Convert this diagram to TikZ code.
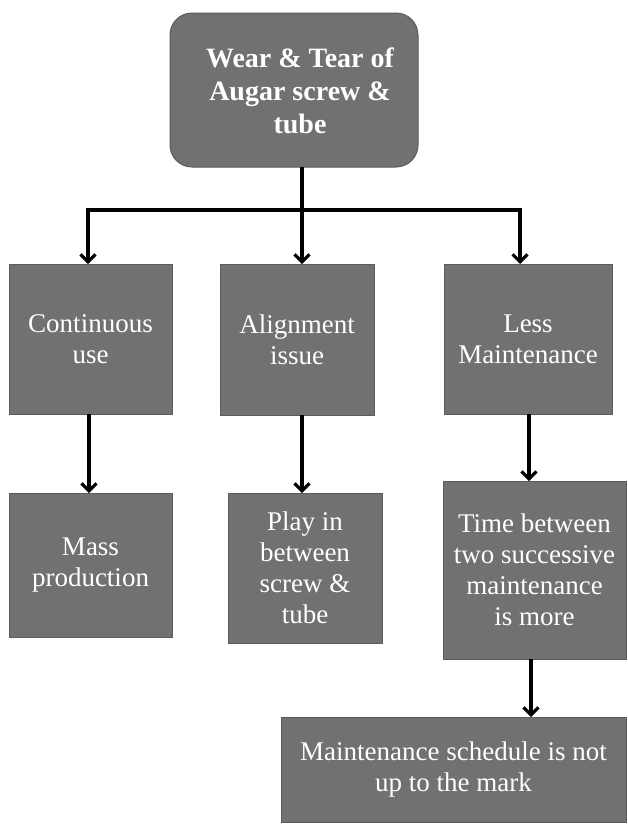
\documentclass[tikz,border=0pt]{standalone}
\usepackage{fontspec}
\setmainfont{Liberation Serif}
\usetikzlibrary{arrows.meta}
\definecolor{boxgray}{RGB}{113,113,113}
\definecolor{edgegray}{RGB}{92,92,92}
\begin{document}
\begin{tikzpicture}[x=1pt,y=-1pt,
  box/.style={draw=edgegray, line width=1pt, fill=boxgray, text=white, align=center,
    inner sep=0pt, outer sep=0pt, font=\fontsize{27}{31}\selectfont},
  conn/.style={line width=3.1pt, black},
  tipstyle/.tip={Straight Barb[length=7.5pt,width=15pt]},
  arr/.style={conn, -tipstyle}]
\useasboundingbox[fill=white] (0,0) rectangle (627,825);
\node[box, rounded corners=22pt, minimum width=248pt, minimum height=154pt] (top) at (294,90) {};
\node[text=white, align=center, inner sep=0pt,
  font=\fontsize{28}{33}\selectfont\bfseries] (toptext) at ([xshift=6pt,yshift=-1pt]top.center) {Wear \& Tear of\\Augar screw \&\\tube};
\node[box, minimum width=163pt, minimum height=150pt] (cont) at (90.5,339) {Continuous\\use};
\node[box, minimum width=154pt, minimum height=151pt] (align) at (297,339.5) {Alignment\\issue};
\node[box, minimum width=168pt, minimum height=150pt] (less) at (528,339) {Less\\Maintenance};
\node[box, minimum width=163pt, minimum height=144pt] (mass) at (90.5,565) {Mass\\production};
\node[box, minimum width=154pt, minimum height=150pt] (play) at (305,568) {Play in\\between\\screw \&\\tube};
\node[box, minimum width=183pt, minimum height=178pt] (time) at (534.5,570) {Time between\\two successive\\maintenance\\is more};
\node[box, minimum width=345pt, minimum height=105pt] (sched) at (453.5,769.5) {Maintenance schedule is not\\up to the mark};
\coordinate (jl) at (88,210);
\coordinate (jr) at (520,210);
\draw[conn, tipstyle-tipstyle] (jl |- cont.north) -- (jl) -- (jr) -- (jr |- less.north);
\draw[arr] ([xshift=8pt]top.south) -- ([xshift=5pt]align.north);
\draw[arr] ([xshift=-1.5pt]cont.south) -- ([xshift=-1.5pt]mass.north);
\draw[arr] ([xshift=5pt]align.south) -- ([xshift=-3pt]play.north);
\draw[arr] ([xshift=1pt]less.south) -- ([xshift=-5.5pt]time.north);
\draw[arr] ([xshift=-3.5pt]time.south) -- ([xshift=77.5pt]sched.north);
\end{tikzpicture}
\end{document}
